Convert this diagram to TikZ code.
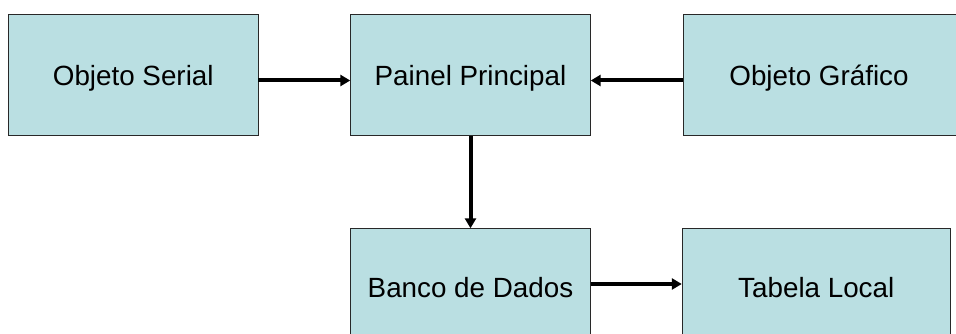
\documentclass[tikz,border=0pt]{standalone}
\usepackage{fontspec}
\setmainfont{Liberation Sans}
\usetikzlibrary{arrows.meta}
\definecolor{boxfill}{RGB}{186,223,226}
\definecolor{boxline}{RGB}{40,40,40}
\tikzset{
  block/.style={draw=boxline, line width=1pt, fill=boxfill},
  flow/.style={line width=4pt, -{Triangle[length=10pt,width=11pt]}},
  lbl/.style={font=\fontsize{27.8pt}{33pt}\selectfont, inner sep=0pt}
}
\begin{document}
\begin{tikzpicture}[x=1pt,y=-1pt]
\useasboundingbox (0,0) rectangle (956,334);
\begin{scope}
\clip (0,0) rectangle (956,334);
% boxes
\draw[block] (8.5,15) rectangle (258,136);
\draw[block] (350.5,15) rectangle (590.5,136);
\draw[block] (683,15) rectangle (960,136);
\draw[block] (350.5,228.5) rectangle (590.5,345);
\draw[block] (682,228.5) rectangle (950.5,345);
\end{scope}
% labels, one node per box (node edges meet the box edges that the arrows touch)
\node[lbl, minimum width=249.5pt, minimum height=115pt] (serial) at (133.25,78.5) {Objeto Serial};
\node[lbl, minimum width=240pt, minimum height=115pt] (painel) at (470.5,78.5) {Painel Principal};
\node[lbl, minimum width=272pt, minimum height=115pt] (grafico) at (819,78.5) {Objeto Gráfico};
\node[lbl, minimum width=240pt, minimum height=119pt] (banco) at (470.5,288) {Banco de Dados};
\node[lbl, minimum width=268.5pt, minimum height=119pt] (tabela) at (816.25,288) {Tabela Local};
% connectors
\draw[flow] ([yshift=-2pt]serial.east) -- ([yshift=-2pt]painel.west);
\draw[flow] ([yshift=-2pt]grafico.west) -- ([yshift=-2pt]painel.east);
\draw[flow] (painel.south) -- (banco.north);
\draw[flow] ([yshift=4pt]banco.east) -- ([yshift=4pt]tabela.west);
\end{tikzpicture}
\end{document}
